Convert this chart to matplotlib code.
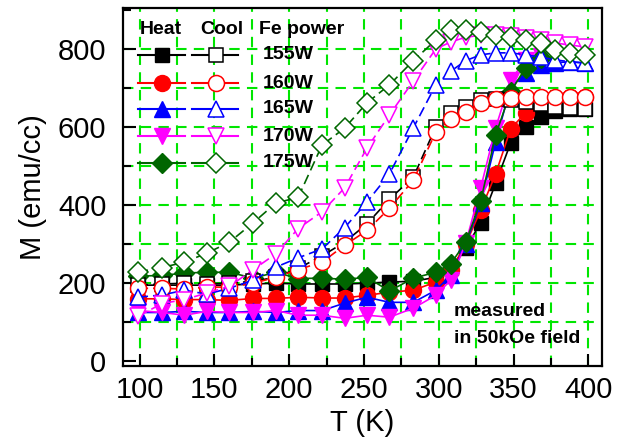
import matplotlib
matplotlib.use('Agg')
import matplotlib.pyplot as plt
from matplotlib.ticker import MultipleLocator

plt.rcParams['font.family'] = ['Liberation Sans', 'DejaVu Sans']

nan = float('nan')

# temperature points (K), same grid for heating and cooling runs
temps = [99, 115, 130, 145, 160, 176, 191, 206, 222, 237, 252, 267, 283, 298,
         308, 318, 328, 338, 348, 358, 368, 378, 388, 398]

# magnetization (emu/cc) on heating
m155_heat = [195, 195, 195, 195, 195, 198, 200, 198, 198, 198, 200, 203, 205, 215,
             240, 290, 355, 456, 559, 600, 626, 640, 645, 645]
m160_heat = [160, 160, 158, 158, 156, 161, 161, 164, 162, 162, 169, 177, 182, 203,
             233, 300, 387, 480, 595, 637, 668, 675, 677, 677]
m165_heat = [125, 125, 128, 125, 125, 128, 125, 130, 130, 149, 164, 151, 151, 182,
             220, 300, 405, 562, 703, 738, 759, 765, 767, 764]
m170_heat = [130, 125, 118, 128, 125, 125, 130, 118, 118, 110, 118, 113, 136, 169,
             208, 303, 444, 598, 720, 772, 782, nan, nan, nan]
m175_heat = [218, 220, 226, 228, 228, 213, 228, 212, 213, 210, 215, 180, 213, 228,
             250, 305, 410, 580, 690, 752, 778, nan, nan, nan]

# magnetization (emu/cc) on cooling
m155_cool = [195, 198, 200, 198, 200, 205, 215, 238, 270, 305, 352, 415, 472, 600,
             636, 651, 669, 672, 670, 665, 660, 651, 649, 646]
m160_cool = [187, 187, 185, 190, 190, 200, 215, 235, 254, 297, 335, 392, 464, 587,
             620, 638, 662, 672, 675, 677, 677, 677, 677, 677]
m165_cool = [164, 170, 182, 172, 187, 208, 241, 265, 288, 342, 408, 480, 598, 708,
             743, 770, 785, 790, 790, 785, 779, 772, 767, 764]
m170_cool = [115, 148, 158, 175, 192, 235, 275, 340, 383, 444, 546, 631, 718, 800,
             818, 830, 835, 835, 832, 828, 822, 815, 810, 805]
m175_cool = [229, 240, 254, 277, 305, 355, 405, 420, 554, 597, 662, 708, 770, 823,
             849, 849, 844, 836, 831, 823, 815, 797, 790, 785]

powers = ['155W', '160W', '165W', '170W', '175W']
colors = ['black', '#ff0000', '#0000ff', '#ff00ff', '#006600']
markers = ['s', 'o', '^', 'v', 'D']
msizes = [10, 11.5, 12, 12, 10]
heat_data = [m155_heat, m160_heat, m165_heat, m170_heat, m175_heat]
cool_data = [m155_cool, m160_cool, m165_cool, m170_cool, m175_cool]

fig = plt.figure(figsize=(6.25, 4.42), dpi=100)
ax = fig.add_axes([0.197, 0.172, 0.766, 0.810])

# dashed green grid
grid_c = '#00e600'
for xv in range(100, 401, 25):
    ax.axvline(xv, color=grid_c, lw=1.5, ls=(0, (5, 3.5)), zorder=0)
for yv in range(100, 801, 100):
    ax.axhline(yv, color=grid_c, lw=1.5, ls=(0, (5, 3.5)), zorder=0)

for i in range(5):
    ax.plot(temps, heat_data[i], color=colors[i], lw=1.2, marker=markers[i],
            ms=msizes[i], mfc=colors[i], mec=colors[i], zorder=3)
for i in range(5):
    ax.plot(temps, cool_data[i], color=colors[i], lw=1.2, ls=(0, (6, 3)),
            marker=markers[i], ms=msizes[i], mfc='white', mec=colors[i],
            mew=1.1, zorder=4)

ax.set_xlim(89, 409)
ax.set_ylim(-12, 905)
ax.xaxis.set_major_locator(MultipleLocator(50))
ax.xaxis.set_minor_locator(MultipleLocator(25))
ax.yaxis.set_major_locator(MultipleLocator(200))
ax.yaxis.set_minor_locator(MultipleLocator(100))
ax.tick_params(which='both', direction='in', width=1.5, labelsize=21)
ax.tick_params(which='major', length=9)
ax.tick_params(which='minor', length=6)
ax.tick_params(axis='x', which='major', pad=7)
ax.tick_params(axis='y', which='major', pad=12)
for sp in ax.spines.values():
    sp.set_linewidth(1.6)

ax.set_xlabel('T (K)', fontsize=21, labelpad=4)
ax.set_ylabel('M (emu/cc)', fontsize=21, labelpad=8)

# hand-made legend: heat / cool symbols and the Fe power
tr = ax.transAxes
hdr = dict(transform=tr, fontsize=14, fontweight='bold', va='center')
ax.text(0.079, 0.939, 'Heat', ha='center', **hdr)
ax.text(0.207, 0.939, 'Cool', ha='center', **hdr)
ax.text(0.372, 0.939, 'Fe power', ha='center', **hdr)
rows_y = [0.869, 0.790, 0.718, 0.642, 0.567]
for i in range(5):
    y = rows_y[i]
    ax.plot([0.031, 0.081, 0.129], [y, y, y], transform=tr, color=colors[i],
            lw=1.5, marker=markers[i], markevery=[1], ms=msizes[i],
            mfc=colors[i], mec=colors[i], zorder=5, clip_on=False)
    ax.plot([0.144, 0.194, 0.240], [y, y, y], transform=tr, color=colors[i],
            lw=1.5, marker=markers[i], markevery=[1], ms=msizes[i],
            mfc='white', mec=colors[i], mew=1.1, zorder=5, clip_on=False)
    ax.text(0.292, y, powers[i], ha='left', **hdr)

ax.text(0.691, 0.151, 'measured', transform=tr, fontsize=14,
        fontweight='bold', va='center', ha='left')
ax.text(0.691, 0.078, 'in 50kOe field', transform=tr, fontsize=14,
        fontweight='bold', va='center', ha='left')

fig.savefig('out.png', dpi=100)
